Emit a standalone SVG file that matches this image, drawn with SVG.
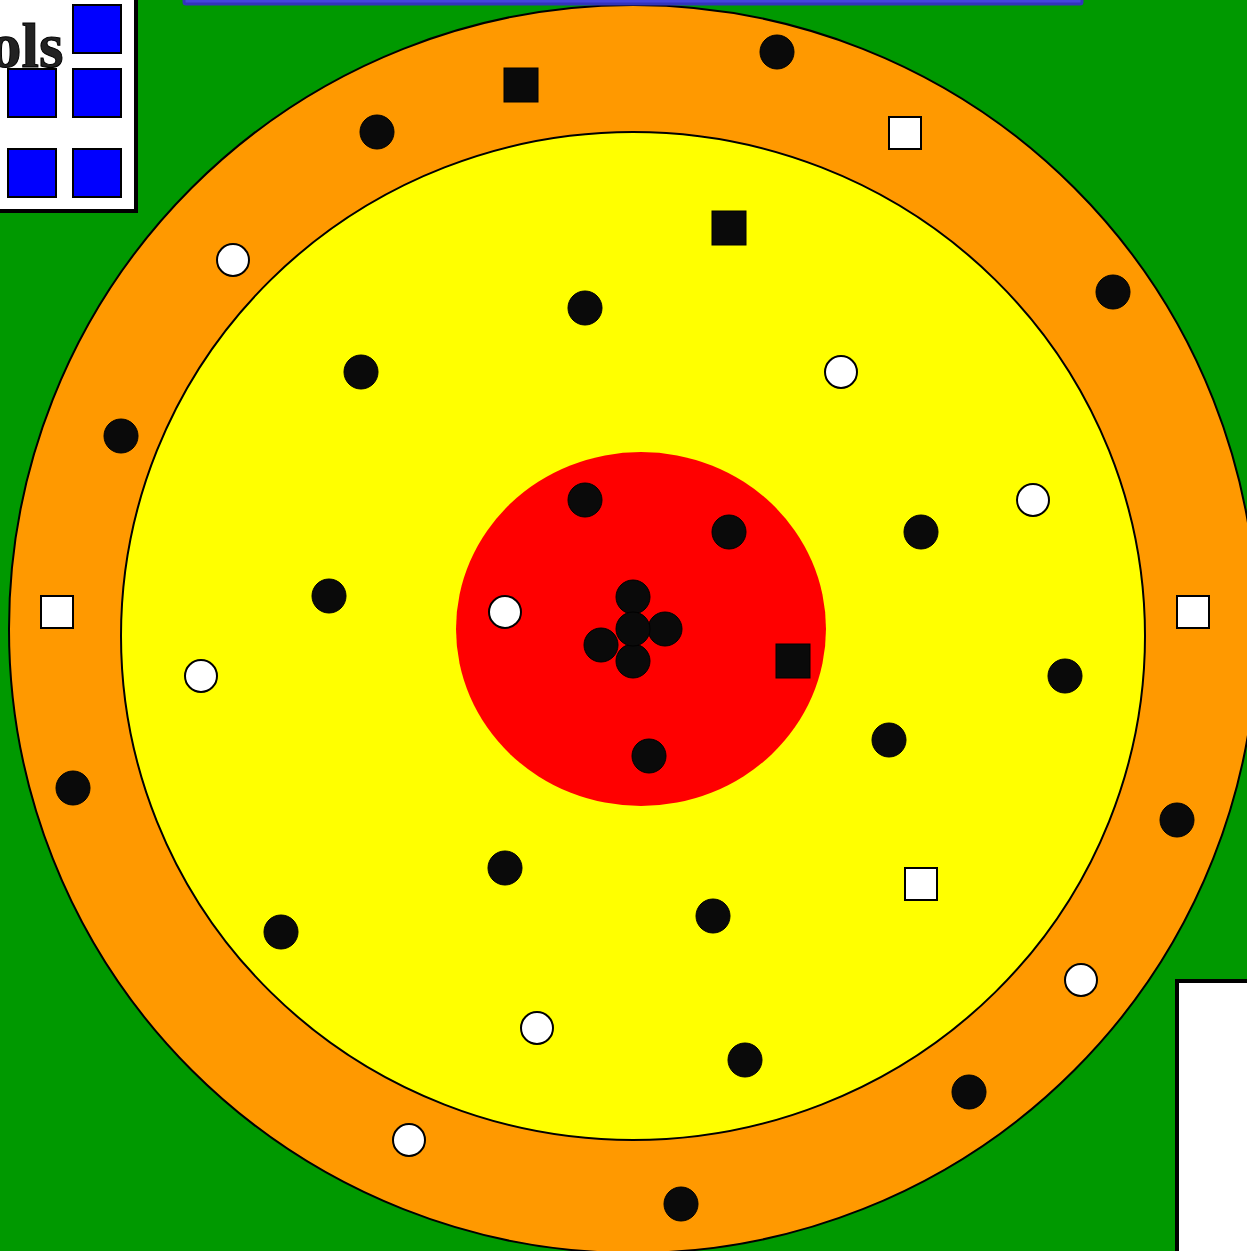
<svg xmlns="http://www.w3.org/2000/svg" width="1247" height="1251" viewBox="0 0 1247 1251">
<style>
.bc{fill:#0a0a0a;stroke:#000;stroke-width:1}
.wc{fill:#fff;stroke:#000;stroke-width:2}
.bs{fill:#0a0a0a;stroke:#000;stroke-width:1}
.ws{fill:#fff;stroke:#000;stroke-width:2}
.tool{fill:#0000ff;stroke:#000;stroke-width:2}
</style>
<rect x="0" y="0" width="1247" height="1251" fill="#009900"/>
<g id="zones">
<ellipse id="outer" cx="633" cy="629" rx="624" ry="624" fill="#ff9900" stroke="#000" stroke-width="2"/>
<ellipse id="middle" cx="633" cy="636" rx="512" ry="504" fill="#ffff00" stroke="#000" stroke-width="2"/>
<ellipse id="inner" cx="641" cy="629" rx="185" ry="177" fill="#ff0000"/>
</g>
<g id="topbar"><rect x="184" y="-10" width="898" height="14" rx="2" fill="#4444dd" stroke="#3333bb" stroke-width="3"/></g>
<g id="toolbox">
<rect x="-10" y="-10" width="146" height="221" fill="#fff" stroke="#000" stroke-width="4"/>
<text x="-10" y="67" font-family="Liberation Serif, serif" font-weight="bold" font-size="63" fill="#222" stroke="#000" stroke-width="1">ols</text>
<rect class="tool" x="73" y="5" width="48" height="48"/>
<rect class="tool" x="8" y="69" width="48" height="48"/>
<rect class="tool" x="73" y="69" width="48" height="48"/>
<rect class="tool" x="8" y="149" width="48" height="48"/>
<rect class="tool" x="73" y="149" width="48" height="48"/>
</g>
<g id="panel"><rect x="1177" y="981" width="90" height="290" fill="#fff" stroke="#000" stroke-width="4"/></g>
<g id="black-dots">
<circle class="bc" cx="777" cy="52" r="17"/>
<circle class="bc" cx="377" cy="132" r="17"/>
<circle class="bc" cx="1113" cy="292" r="17"/>
<circle class="bc" cx="585" cy="308" r="17"/>
<circle class="bc" cx="361" cy="372" r="17"/>
<circle class="bc" cx="121" cy="436" r="17"/>
<circle class="bc" cx="585" cy="500" r="17"/>
<circle class="bc" cx="729" cy="532" r="17"/>
<circle class="bc" cx="921" cy="532" r="17"/>
<circle class="bc" cx="329" cy="596" r="17"/>
<circle class="bc" cx="633" cy="597" r="17"/>
<circle class="bc" cx="665" cy="629" r="17"/>
<circle class="bc" cx="601" cy="645" r="17"/>
<circle class="bc" cx="633" cy="661" r="17"/>
<circle class="bc" cx="633" cy="629" r="17"/>
<circle class="bc" cx="1065" cy="676" r="17"/>
<circle class="bc" cx="889" cy="740" r="17"/>
<circle class="bc" cx="649" cy="756" r="17"/>
<circle class="bc" cx="73" cy="788" r="17"/>
<circle class="bc" cx="1177" cy="820" r="17"/>
<circle class="bc" cx="505" cy="868" r="17"/>
<circle class="bc" cx="713" cy="916" r="17"/>
<circle class="bc" cx="281" cy="932" r="17"/>
<circle class="bc" cx="745" cy="1060" r="17"/>
<circle class="bc" cx="969" cy="1092" r="17"/>
<circle class="bc" cx="681" cy="1204" r="17"/>
</g>
<g id="white-dots">
<circle class="wc" cx="233" cy="260" r="16"/>
<circle class="wc" cx="841" cy="372" r="16"/>
<circle class="wc" cx="1033" cy="500" r="16"/>
<circle class="wc" cx="505" cy="612" r="16"/>
<circle class="wc" cx="201" cy="676" r="16"/>
<circle class="wc" cx="1081" cy="980" r="16"/>
<circle class="wc" cx="537" cy="1028" r="16"/>
<circle class="wc" cx="409" cy="1140" r="16"/>
</g>
<g id="black-squares">
<rect class="bs" x="504" y="68" width="34" height="34"/>
<rect class="bs" x="712" y="211" width="34" height="34"/>
<rect class="bs" x="776" y="644" width="34" height="34"/>
</g>
<g id="white-squares">
<rect class="ws" x="889" y="117" width="32" height="32"/>
<rect class="ws" x="41" y="596" width="32" height="32"/>
<rect class="ws" x="1177" y="596" width="32" height="32"/>
<rect class="ws" x="905" y="868" width="32" height="32"/>
</g>
<g id="connectors"/>
</svg>
